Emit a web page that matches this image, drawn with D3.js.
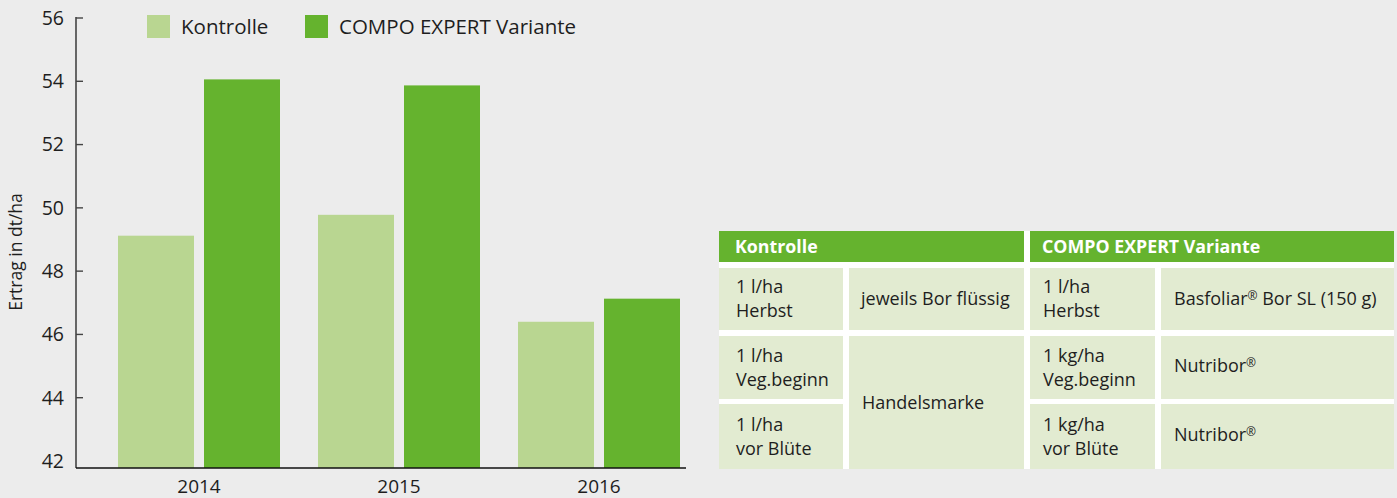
<!DOCTYPE html>
<html>
<head>
<meta charset="utf-8">
<script src="https://cdn.jsdelivr.net/npm/d3@7"></script>
<style>
  html, body { margin: 0; padding: 0; background: #ececec; }
  svg { display: block; font-family: "Open Sans", "Noto Sans", sans-serif; }
</style>
</head>
<body>
<svg id="chart" width="1397" height="498"></svg>
<script>
// --- data ---
const years = ["2014", "2015", "2016"];
const seriesNames = ["Kontrolle", "COMPO EXPERT Variante"];
const kontrolle = [49.12, 49.78, 46.4];
const compoExpert = [54.06, 53.87, 47.13];
const yTicks = [42, 44, 46, 48, 50, 52, 54, 56];

// table contents
const tableHeaders = ["Kontrolle", "COMPO EXPERT Variante"];
const kontrolleDosis = [["1 l/ha", "Herbst"], ["1 l/ha", "Veg.beginn"], ["1 l/ha", "vor Blüte"]];
const kontrolleProdukt = ["jeweils Bor flüssig", "Handelsmarke"];   // second spans two rows
const compoDosis = [["1 l/ha", "Herbst"], ["1 kg/ha", "Veg.beginn"], ["1 kg/ha", "vor Blüte"]];
const compoProdukt = ["Basfoliar® Bor SL (150 g)", "Nutribor®", "Nutribor®"];

const colors = { light: "#b9d691", dark: "#65b32e", cell: "#e2ebd1", text: "#1e1e1e", axis: "#444" };

const svg = d3.select("#chart");

// --- bar chart ---
const baseline = 468;
const x0 = d3.scaleBand().domain(years).range([99, 699]).padding(0);
const x1 = d3.scaleBand().domain(seriesNames).range([19, 181]).paddingInner(0.1163);
const y = d3.scaleLinear().domain([42, 56]).range([461, 18]);

const rows = years.map((yr, i) => ({ year: yr, values: [kontrolle[i], compoExpert[i]] }));

const groups = svg.append("g").attr("class", "bars")
  .selectAll("g").data(rows).enter().append("g")
  .attr("transform", d => `translate(${x0(d.year)},0)`);

groups.selectAll("rect")
  .data(d => d.values.map((v, k) => ({ name: seriesNames[k], value: v, k })))
  .enter().append("rect")
  .attr("x", d => x1(d.name))
  .attr("width", x1.bandwidth())
  .attr("y", d => y(d.value))
  .attr("height", d => baseline - y(d.value))
  .attr("fill", d => d.k === 0 ? colors.light : colors.dark);

// y axis
const yAxis = svg.append("g").attr("transform", "translate(76,0)");
yAxis.append("line")
  .attr("x1", 0).attr("x2", 0).attr("y1", y(56) - 1).attr("y2", baseline)
  .attr("stroke", colors.axis).attr("stroke-width", 1.6);
yAxis.selectAll("line.tick").data(yTicks.filter(t => t !== 42)).enter().append("line")
  .attr("class", "tick")
  .attr("x1", 0).attr("x2", 7)
  .attr("y1", d => y(d)).attr("y2", d => y(d))
  .attr("stroke", colors.axis).attr("stroke-width", 1.4);
yAxis.selectAll("text").data(yTicks).enter().append("text")
  .attr("x", -12).attr("y", d => y(d))
  .attr("dy", "0.35em")
  .attr("text-anchor", "end")
  .attr("font-size", 19.5)
  .attr("fill", colors.text)
  .text(d => d);

svg.append("text")
  .attr("transform", `translate(22,${(y(56) + baseline) / 2 + 9}) rotate(-90)`)
  .attr("text-anchor", "middle")
  .attr("font-size", 17.5)
  .attr("fill", colors.text)
  .text("Ertrag in dt/ha");

// x axis
svg.append("line")
  .attr("x1", 76).attr("x2", 686).attr("y1", baseline).attr("y2", baseline)
  .attr("stroke", "#111").attr("stroke-width", 1.6);
svg.append("g").selectAll("text").data(years).enter().append("text")
  .attr("x", d => x0(d) + x0.bandwidth() / 2)
  .attr("y", 493)
  .attr("text-anchor", "middle")
  .attr("font-size", 19)
  .attr("fill", colors.text)
  .text(d => d);

// legend
const legendX = [147, 305];
const legend = svg.append("g").selectAll("g").data(seriesNames).enter().append("g")
  .attr("transform", (d, i) => `translate(${legendX[i]},15)`);
legend.append("rect").attr("width", 23).attr("height", 23)
  .attr("fill", (d, i) => i === 0 ? colors.light : colors.dark);
legend.append("text").attr("x", 34).attr("y", 19)
  .attr("font-size", 20.5).attr("fill", colors.text).text(d => d);

// --- table ---
const colX = [719, 849, 1030, 1161];   // left edges
const colR = [843, 1024, 1155, 1394];  // right edges
const rowY = [268, 336, 404];
const rowB = [330, 399, 469];
const table = svg.append("g").attr("class", "table");

table.append("rect").attr("x", 719).attr("y", 231).attr("width", 1394 - 719).attr("height", 469 - 231).attr("fill", "#fff");

// header
const headerSpans = [[0, 1], [2, 3]];
const headerPad = [16, 12];
tableHeaders.forEach((h, i) => {
  const [a, b] = headerSpans[i];
  table.append("rect").attr("x", colX[a]).attr("y", 231).attr("width", colR[b] - colX[a]).attr("height", 31)
    .attr("fill", colors.dark);
  table.append("text").attr("x", colX[a] + headerPad[i]).attr("y", 253)
    .attr("font-size", 17.8).attr("font-weight", 700).attr("fill", "#fff").text(h);
});

function cell(c, r0, r1) {
  table.append("rect").attr("x", colX[c]).attr("y", rowY[r0])
    .attr("width", colR[c] - colX[c]).attr("height", rowB[r1] - rowY[r0])
    .attr("fill", colors.cell);
  return (rowY[r0] + rowB[r1]) / 2;
}

function addText(x, cy, lines) {
  const t = table.append("text").attr("font-size", 18).attr("fill", colors.text);
  const lh = 24;
  lines.forEach((ln, i) => {
    const ts = t.append("tspan").attr("x", x)
      .attr("y", cy + (i - (lines.length - 1) / 2) * lh).attr("dy", "0.35em");
    const parts = ln.split("®");
    parts.forEach((p, j) => {
      ts.append("tspan").text(p);
      if (j < parts.length - 1) {
        ts.append("tspan").attr("font-size", 12).attr("baseline-shift", "5").text("®");
      }
    });
  });
}

kontrolleDosis.forEach((lines, r) => addText(colX[0] + 17, cell(0, r, r), lines));
addText(colX[1] + 12, cell(1, 0, 0), [kontrolleProdukt[0]]);
addText(colX[1] + 13, cell(1, 1, 2), [kontrolleProdukt[1]]);
compoDosis.forEach((lines, r) => addText(colX[2] + 13, cell(2, r, r), lines));
compoProdukt.forEach((p, r) => addText(colX[3] + 13, cell(3, r, r) - (r > 0 ? 2 : 0), [p]));
</script>
</body>
</html>
